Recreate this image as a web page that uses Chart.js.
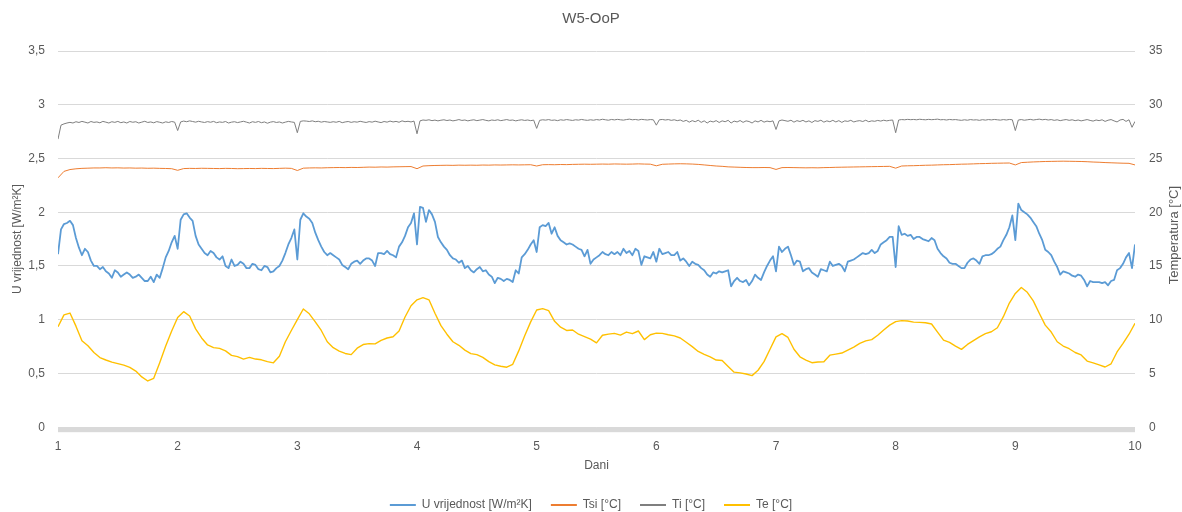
<!DOCTYPE html>
<html>
<head>
<meta charset="utf-8">
<script src="https://cdn.jsdelivr.net/npm/chart.js@4.4.1/dist/chart.umd.min.js"></script>
<style>
  html, body { margin: 0; padding: 0; background: #ffffff; }
  canvas { display: block; }
</style>
</head>
<body>
<canvas id="chart" width="1182" height="512"></canvas>
<script>
// Sampling: U and Ti every 0.025 day, Tsi and Te every 0.05 day (days 1..10)
const FINE_STEP = 0.025;
const COARSE_STEP = 0.05;
const fineDays = Array.from({ length: 361 }, (_, k) => +(1 + k * FINE_STEP).toFixed(3));
const coarseDays = Array.from({ length: 181 }, (_, k) => +(1 + k * COARSE_STEP).toFixed(3));

// U value [W/m²K]
const uValues = [
  1.61,1.84,1.89,1.90,1.92,1.88,1.76,1.67,1.60,1.66,1.63,1.55,1.50,1.50,1.47,1.49,1.45,1.43,1.39,1.46,
  1.44,1.40,1.42,1.44,1.42,1.39,1.40,1.42,1.39,1.36,1.36,1.40,1.35,1.42,1.39,1.48,1.58,1.64,1.72,1.78,
  1.66,1.93,1.98,1.99,1.95,1.92,1.78,1.70,1.66,1.62,1.60,1.64,1.62,1.58,1.56,1.59,1.50,1.48,1.56,1.50,
  1.51,1.54,1.52,1.48,1.48,1.52,1.51,1.47,1.46,1.50,1.49,1.44,1.45,1.48,1.50,1.55,1.62,1.70,1.76,1.84,
  1.56,1.93,1.99,1.96,1.94,1.90,1.81,1.74,1.68,1.63,1.60,1.62,1.60,1.58,1.56,1.51,1.49,1.47,1.52,1.54,
  1.55,1.52,1.55,1.57,1.57,1.55,1.50,1.62,1.62,1.61,1.64,1.61,1.60,1.58,1.68,1.72,1.78,1.86,1.90,1.99,
  1.70,2.05,2.04,1.91,2.02,1.98,1.91,1.77,1.72,1.68,1.65,1.60,1.57,1.56,1.53,1.55,1.48,1.50,1.46,1.44,
  1.47,1.49,1.45,1.46,1.42,1.40,1.34,1.39,1.38,1.36,1.38,1.37,1.35,1.46,1.43,1.58,1.61,1.65,1.70,1.74,
  1.63,1.86,1.88,1.87,1.90,1.80,1.86,1.78,1.74,1.72,1.70,1.71,1.70,1.68,1.66,1.65,1.59,1.65,1.52,1.56,
  1.58,1.60,1.63,1.61,1.60,1.63,1.61,1.63,1.60,1.66,1.62,1.64,1.60,1.66,1.64,1.51,1.59,1.58,1.57,1.63,
  1.54,1.66,1.61,1.62,1.63,1.60,1.60,1.63,1.55,1.57,1.54,1.50,1.54,1.52,1.51,1.48,1.46,1.42,1.40,1.44,
  1.43,1.45,1.44,1.45,1.46,1.31,1.36,1.39,1.36,1.35,1.37,1.32,1.36,1.42,1.39,1.37,1.44,1.50,1.55,1.59,
  1.45,1.68,1.63,1.66,1.68,1.60,1.51,1.55,1.54,1.45,1.47,1.48,1.44,1.42,1.40,1.47,1.46,1.45,1.54,1.50,
  1.51,1.52,1.50,1.45,1.54,1.55,1.56,1.58,1.60,1.62,1.61,1.62,1.65,1.62,1.64,1.70,1.72,1.74,1.77,1.77,
  1.49,1.87,1.79,1.80,1.78,1.79,1.75,1.77,1.77,1.75,1.74,1.73,1.76,1.74,1.66,1.62,1.59,1.57,1.53,1.52,
  1.52,1.50,1.48,1.48,1.53,1.56,1.57,1.55,1.52,1.59,1.60,1.60,1.61,1.63,1.66,1.68,1.74,1.79,1.86,1.97,
  1.74,2.08,2.02,2.00,1.98,1.95,1.91,1.87,1.80,1.74,1.65,1.63,1.60,1.54,1.49,1.42,1.45,1.44,1.43,1.41,
  1.40,1.42,1.41,1.37,1.31,1.36,1.35,1.35,1.35,1.34,1.35,1.32,1.36,1.37,1.46,1.48,1.52,1.58,1.62,1.48,
  1.70
];

// Ti [°C], indoor air
const tiValues = [
  26.80,28.10,28.22,28.30,28.36,28.30,28.42,28.35,28.45,28.38,28.30,28.44,28.36,28.40,28.32,28.45,28.38,28.30,28.42,28.36,
  28.45,28.33,28.40,28.30,28.44,28.37,28.42,28.30,28.38,28.46,28.35,28.40,28.32,28.43,28.37,28.30,28.41,28.35,28.44,28.38,
  27.60,28.40,28.48,28.42,28.50,28.44,28.38,28.46,28.40,28.35,28.43,28.37,28.45,28.33,28.40,28.36,28.44,28.30,28.38,28.42,
  28.34,28.40,28.46,28.38,28.30,28.42,28.36,28.44,28.33,28.40,28.28,28.38,28.43,28.35,28.40,28.30,28.38,28.45,28.40,28.36,
  27.40,28.45,28.50,28.48,28.44,28.50,28.42,28.46,28.38,28.44,28.40,28.36,28.42,28.37,28.45,28.33,28.40,28.44,28.36,28.42,
  28.38,28.46,28.40,28.35,28.43,28.38,28.47,28.40,28.34,28.44,28.38,28.48,28.40,28.45,28.37,28.50,28.42,28.46,28.40,28.48,
  27.30,28.50,28.58,28.55,28.60,28.52,28.57,28.50,28.56,28.60,28.53,28.58,28.50,28.55,28.62,28.54,28.58,28.50,28.56,28.60,
  28.52,28.57,28.62,28.55,28.50,28.58,28.54,28.60,28.52,28.57,28.62,28.55,28.58,28.50,28.56,28.60,28.54,28.58,28.52,28.57,
  27.80,28.55,28.60,28.57,28.62,28.55,28.58,28.52,28.60,28.56,28.62,28.58,28.54,28.60,28.57,28.63,28.58,28.55,28.60,28.56,
  28.62,28.58,28.65,28.60,28.56,28.63,28.59,28.64,28.60,28.57,28.62,28.66,28.60,28.63,28.58,28.64,28.61,28.58,28.62,28.60,
  28.10,28.60,28.63,28.58,28.62,28.55,28.60,28.52,28.58,28.45,28.55,28.38,28.52,28.42,28.56,28.36,28.50,28.30,28.48,28.40,
  28.52,28.35,28.50,28.42,28.55,28.30,28.48,28.40,28.53,28.36,28.50,28.44,28.30,28.50,28.40,28.55,28.38,28.48,28.42,28.50,
  27.70,28.50,28.58,28.52,28.46,28.56,28.38,28.52,28.44,28.55,28.40,28.50,28.35,28.52,28.45,28.56,28.38,28.50,28.42,28.55,
  28.40,28.52,28.36,28.50,28.45,28.55,28.40,28.48,28.52,28.44,28.56,28.42,28.50,28.46,28.54,28.48,28.56,28.50,28.55,28.58,
  27.40,28.58,28.62,28.60,28.64,28.61,28.63,28.60,28.65,28.62,28.60,28.64,28.61,28.63,28.66,28.60,28.62,28.58,28.63,28.60,
  28.62,28.58,28.55,28.60,28.56,28.62,28.58,28.60,28.55,28.61,28.57,28.62,28.59,28.63,28.60,28.57,28.62,28.58,28.63,28.60,
  27.60,28.58,28.62,28.56,28.60,28.64,28.58,28.62,28.66,28.60,28.64,28.58,28.62,28.55,28.60,28.52,28.58,28.62,28.55,28.60,
  28.52,28.58,28.50,28.56,28.62,28.54,28.48,28.58,28.52,28.60,28.45,28.56,28.62,28.50,28.40,28.58,28.64,28.45,28.60,27.90,
  28.45
];

// Tsi [°C], inner surface
const tsiValues = [
  23.20,23.80,23.97,24.04,24.08,24.10,24.12,24.12,24.14,24.12,24.13,24.11,24.12,24.10,24.11,24.09,24.10,24.08,24.07,24.05,
  23.90,24.06,24.08,24.07,24.09,24.08,24.07,24.06,24.08,24.07,24.05,24.06,24.07,24.06,24.08,24.07,24.06,24.08,24.10,24.08,
  23.88,24.10,24.12,24.13,24.12,24.14,24.15,24.16,24.15,24.17,24.16,24.18,24.20,24.19,24.21,24.20,24.22,24.23,24.24,24.25,
  24.05,24.30,24.33,24.35,24.36,24.37,24.36,24.38,24.37,24.38,24.37,24.39,24.38,24.40,24.39,24.40,24.41,24.40,24.41,24.42,
  24.30,24.42,24.43,24.42,24.44,24.43,24.45,24.46,24.47,24.46,24.47,24.48,24.47,24.49,24.48,24.47,24.48,24.50,24.48,24.47,
  24.32,24.46,24.48,24.50,24.51,24.50,24.48,24.45,24.40,24.35,24.30,24.27,24.22,24.20,24.18,24.16,24.15,24.15,24.16,24.15,
  23.98,24.15,24.16,24.15,24.14,24.13,24.14,24.13,24.15,24.16,24.18,24.19,24.20,24.21,24.22,24.23,24.24,24.25,24.26,24.27,
  24.10,24.30,24.32,24.33,24.35,24.37,24.38,24.40,24.42,24.43,24.45,24.47,24.48,24.50,24.52,24.53,24.55,24.56,24.57,24.58,
  24.40,24.62,24.65,24.68,24.70,24.72,24.73,24.74,24.75,24.74,24.73,24.72,24.70,24.67,24.65,24.62,24.60,24.58,24.56,24.55,
  24.40
];

// Te [°C], outdoor air
const teValues = [
  9.35,10.45,10.62,9.40,8.05,7.58,6.95,6.48,6.25,6.05,5.92,5.77,5.57,5.22,4.68,4.30,4.55,6.00,7.55,8.95,
  10.20,10.75,10.35,9.15,8.30,7.65,7.40,7.33,7.10,6.68,6.57,6.34,6.50,6.34,6.27,6.10,5.99,6.60,7.95,9.00,
  10.00,11.00,10.55,9.80,9.00,7.95,7.40,7.08,6.86,6.75,7.35,7.69,7.78,7.75,8.07,8.30,8.42,8.95,10.25,11.30,
  11.85,12.05,11.85,10.60,9.45,8.65,7.95,7.62,7.17,6.85,6.75,6.50,6.10,5.80,5.67,5.58,5.85,7.10,8.50,9.80,
  10.90,11.03,10.85,9.85,9.30,9.00,9.04,8.65,8.42,8.20,7.85,8.55,8.66,8.73,8.57,8.85,8.70,8.95,8.15,8.60,
  8.75,8.73,8.60,8.50,8.30,7.90,7.50,7.05,6.78,6.55,6.25,6.20,5.65,5.12,5.05,4.95,4.80,5.30,6.10,7.25,
  8.40,8.70,8.35,7.25,6.55,6.25,6.00,6.07,6.09,6.70,6.80,6.90,7.18,7.45,7.80,8.03,8.15,8.55,9.05,9.50,
  9.82,9.92,9.88,9.78,9.75,9.72,9.60,8.85,8.10,7.90,7.55,7.24,7.70,8.05,8.40,8.70,8.88,9.25,10.28,11.55,
  12.45,13.00,12.55,11.75,10.60,9.50,8.85,7.95,7.55,7.30,6.95,6.72,6.15,5.99,5.80,5.60,5.90,7.00,7.80,8.65,
  9.66
];

const seriesLabels = ['U vrijednost [W/m²K]', 'Tsi [°C]', 'Ti [°C]', 'Te [°C]'];
const seriesColors = ['#5b9bd5', '#ed7d31', '#7f7f7f', '#ffc000'];
const rightAxisTitle = 'Temperatura [°C]';

const TEXT = '#595959';
const GRID = '#d9d9d9';
const FONT = "'Liberation Sans', Arial, sans-serif";
Chart.defaults.font.family = FONT;
Chart.defaults.color = TEXT;

const toPoints = (days, vals) => days.map((d, k) => ({ x: d, y: vals[k] }));

// thick light band along the zero line under the plot
const axisBand = {
  id: 'axisBand',
  beforeDatasetsDraw(chart) {
    const { ctx, chartArea } = chart;
    ctx.save();
    ctx.fillStyle = GRID;
    ctx.fillRect(chartArea.left, chartArea.bottom, chartArea.right - chartArea.left, 5);
    ctx.restore();
  }
};

// right axis title, read bottom-to-top like the left one
const rightTitle = {
  id: 'rightTitle',
  afterDraw(chart) {
    const { ctx, chartArea } = chart;
    const scale = chart.scales.y1;
    ctx.save();
    ctx.translate(scale.right - 8, (chartArea.top + chartArea.bottom) / 2 - 4);
    ctx.rotate(-Math.PI / 2);
    ctx.fillStyle = TEXT;
    ctx.font = '13px ' + FONT;
    ctx.textAlign = 'center';
    ctx.textBaseline = 'middle';
    ctx.fillText(rightAxisTitle, 0, 0);
    ctx.restore();
  }
};

new Chart(document.getElementById('chart'), {
  type: 'line',
  data: {
    datasets: [
      { label: seriesLabels[0], data: toPoints(fineDays, uValues), borderColor: seriesColors[0], backgroundColor: seriesColors[0], borderWidth: 1.8, yAxisID: 'y' },
      { label: seriesLabels[1], data: toPoints(coarseDays, tsiValues), borderColor: seriesColors[1], backgroundColor: seriesColors[1], borderWidth: 1, yAxisID: 'y1' },
      { label: seriesLabels[2], data: toPoints(fineDays, tiValues), borderColor: seriesColors[2], backgroundColor: seriesColors[2], borderWidth: 1, yAxisID: 'y1' },
      { label: seriesLabels[3], data: toPoints(coarseDays, teValues), borderColor: seriesColors[3], backgroundColor: seriesColors[3], borderWidth: 1.4, yAxisID: 'y1' }
    ]
  },
  options: {
    responsive: false,
    animation: false,
    devicePixelRatio: 1,
    layout: { padding: { left: 0, right: 0, top: 0, bottom: -9 } },
    elements: { point: { radius: 0 }, line: { tension: 0, borderJoinStyle: 'round' } },
    plugins: {
      title: {
        display: true, text: 'W5-OoP', color: TEXT,
        font: { size: 15, weight: 'normal', family: FONT },
        padding: { top: 10, bottom: 23 }
      },
      legend: {
        position: 'bottom',
        labels: {
          usePointStyle: true,
          pointStyleWidth: 26,
          padding: 19,
          color: TEXT,
          font: { size: 12, family: FONT },
          generateLabels(chart) {
            return Chart.defaults.plugins.legend.labels.generateLabels(chart)
              .map(item => Object.assign(item, { pointStyle: 'line', lineWidth: 2 }));
          }
        }
      },
      tooltip: { enabled: false }
    },
    scales: {
      x: {
        type: 'linear', min: 1, max: 10,
        ticks: { stepSize: 1, padding: 12, maxRotation: 0, color: TEXT, font: { size: 12 } },
        grid: { display: false, drawTicks: false },
        border: { display: false },
        title: { display: true, text: 'Dani', color: TEXT, font: { size: 12 }, padding: { top: -7, bottom: 7 } }
      },
      y: {
        position: 'left', min: 0, max: 3.5,
        ticks: { stepSize: 0.5, padding: 13, color: TEXT, font: { size: 12 },
                 callback: v => String(v).replace('.', ',') },
        grid: { color: GRID, lineWidth: 1, drawTicks: false },
        border: { display: false },
        title: { display: true, text: 'U vrijednost [W/m²K]', color: TEXT, font: { size: 12 }, padding: { top: 10, bottom: 0 } },
        afterFit(scale) { scale.width = 58; }
      },
      y1: {
        position: 'right', min: 0, max: 35,
        ticks: { stepSize: 5, padding: 14, color: TEXT, font: { size: 12 } },
        grid: { display: false, drawTicks: false },
        border: { display: false },
        title: { display: false },
        afterFit(scale) { scale.width = 47; }
      }
    }
  },
  plugins: [axisBand, rightTitle]
});
</script>
</body>
</html>
